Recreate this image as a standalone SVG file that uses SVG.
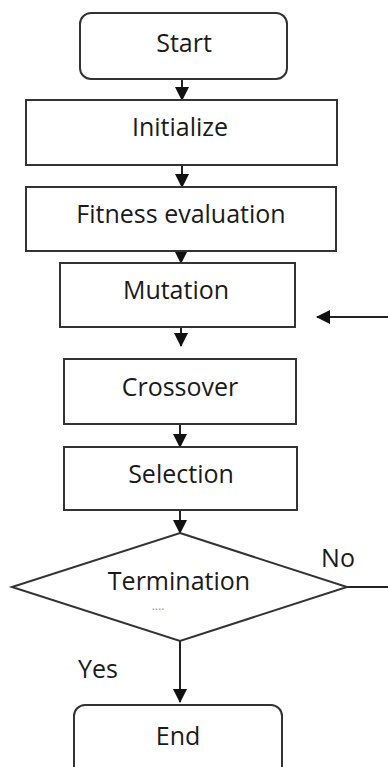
<svg xmlns="http://www.w3.org/2000/svg" width="388" height="767" viewBox="0 0 388 767">
<defs>
<style>
.box{fill:#fff;stroke:#333;stroke-width:2}
.t{font-family:"Open Sans","Liberation Sans",sans-serif;font-size:25px;fill:#1a1a1a;text-anchor:middle}
.c{fill:none;stroke:#222;stroke-width:2}
</style>
<marker id="ah" markerUnits="userSpaceOnUse" markerWidth="14" markerHeight="14" viewBox="0 0 14 14" refX="13" refY="7" orient="auto">
<path d="M0,0 L14,7 L0,14 Z" fill="#111"/>
</marker>
</defs>
<rect width="388" height="767" fill="#fff"/>
<g id="connectors">
<line class="c" x1="182" y1="79" x2="182" y2="100" marker-end="url(#ah)"/>
<line class="c" x1="182" y1="165" x2="182" y2="187" marker-end="url(#ah)"/>
<line class="c" x1="181" y1="251" x2="181" y2="263" marker-end="url(#ah)"/>
<line class="c" x1="181" y1="326" x2="181" y2="346" marker-end="url(#ah)"/>
<line class="c" x1="388" y1="317" x2="317" y2="317" marker-end="url(#ah)"/>
<line class="c" x1="180" y1="424" x2="180" y2="447" marker-end="url(#ah)"/>
<line class="c" x1="180" y1="510" x2="180" y2="533" marker-end="url(#ah)"/>
<line class="c" x1="180" y1="641" x2="180" y2="702" marker-end="url(#ah)"/>
<line class="c" x1="347" y1="587" x2="388" y2="587"/>
</g>
<g id="start">
<rect class="box" x="80" y="13" width="207" height="66" rx="11"/>
<text class="t" x="184" y="52">Start</text>
</g>
<g id="initialize">
<rect class="box" x="26" y="100" width="311" height="65"/>
<text class="t" x="180" y="136">Initialize</text>
</g>
<g id="fitness">
<rect class="box" x="26" y="187" width="310" height="64"/>
<text class="t" x="181" y="223">Fitness evaluation</text>
</g>
<g id="mutation">
<rect class="box" x="60" y="263" width="235" height="64"/>
<text class="t" x="176" y="299">Mutation</text>
</g>
<g id="crossover">
<rect class="box" x="64" y="359" width="232" height="65"/>
<text class="t" x="180" y="396">Crossover</text>
</g>
<g id="selection">
<rect class="box" x="64" y="447" width="233" height="63"/>
<text class="t" x="181" y="483">Selection</text>
</g>
<g id="termination">
<polygon class="box" points="180,533 347,587 180,641 12,587"/>
<text class="t" x="179" y="590">Termination</text>
<text x="158" y="610" style="font-family:'Open Sans',sans-serif;font-size:12px;fill:#7a94c4;text-anchor:middle">....</text>
</g>
<g id="labels">
<text class="t" x="338" y="567">No</text>
<text class="t" x="98" y="678">Yes</text>
</g>
<g id="end">
<rect class="box" x="74" y="705" width="208" height="72" rx="11"/>
<text class="t" x="178" y="745">End</text>
</g>
</svg>
